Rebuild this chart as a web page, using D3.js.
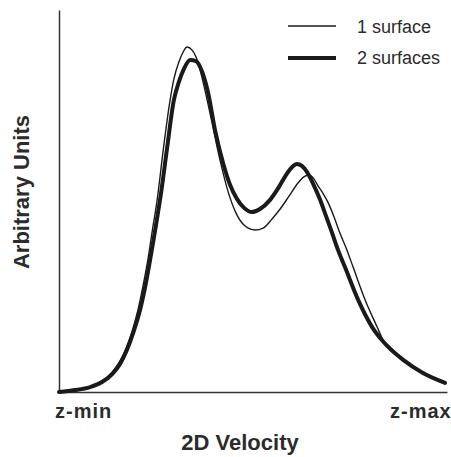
<!DOCTYPE html>
<html>
<head>
<meta charset="utf-8">
<script src="https://cdn.jsdelivr.net/npm/d3@7"></script>
<style>
  body { margin: 0; background: #fff; }
  text { font-family: "Liberation Sans", Arial, Helvetica, sans-serif; fill: #2b2b2b; }
</style>
</head>
<body>
<svg id="chart" width="451" height="457"></svg>
<script>
// velocity (0 = z-min, 100 = z-max) and arbitrary units
var oneX = [0, 4.1, 8.0, 11.1, 13.7, 15.7, 17.5, 19.1, 20.4, 21.6, 22.9, 24.0, 25.3, 26.8, 28.4, 29.6, 30.9, 32.0, 33.0, 34.3, 35.8, 37.6, 39.4, 41.5, 43.6, 45.6, 47.9, 50.5, 52.6, 54.9, 57.0, 59.5, 61.6, 63.1, 64.4, 65.7, 66.8, 67.8, 69.3, 70.9, 72.4, 74.2, 75.8, 78.9, 82.0, 83.5, 88.7, 93.8, 99.5];
var oneY = [0, 0.5, 1.3, 2.9, 5.2, 8.1, 12.0, 16.8, 21.7, 27.5, 34.6, 41.9, 50.3, 62.8, 74.9, 81.9, 86.4, 89.0, 90.3, 89.5, 86.4, 79.1, 70.7, 60.7, 52.4, 46.9, 43.5, 42.4, 42.9, 45.3, 47.9, 51.6, 54.7, 56.3, 56.8, 55.8, 53.9, 52.4, 49.7, 45.8, 41.6, 37.2, 32.7, 24.1, 17.0, 13.6, 8.4, 5.0, 2.4];

var twoX = [0, 4.1, 8.0, 11.1, 13.7, 15.7, 17.5, 19.1, 20.9, 22.4, 23.7, 25.0, 26.3, 27.8, 29.6, 30.9, 32.2, 33.8, 35.3, 36.9, 38.4, 40.2, 42.3, 44.1, 45.9, 47.7, 49.7, 51.8, 54.4, 56.7, 58.5, 60.1, 61.3, 62.6, 63.9, 65.5, 67.3, 68.8, 70.4, 71.9, 73.7, 77.1, 80.7, 83.2, 88.7, 93.8, 99.5];
var twoY = [0, 0.5, 1.3, 2.6, 4.7, 7.3, 11.0, 15.4, 21.5, 28.5, 35.9, 43.7, 52.1, 63.4, 76.4, 81.2, 84.6, 86.9, 86.6, 83.8, 78.5, 68.6, 59.9, 54.2, 50.5, 48.2, 47.1, 47.9, 50.3, 53.7, 56.8, 58.9, 59.7, 59.2, 57.6, 54.5, 50.3, 46.1, 41.6, 37.2, 32.7, 24.1, 17.0, 13.6, 8.4, 5.0, 2.4];

var seriesNames = ["1 surface", "2 surfaces"];
var xTickLabels = ["z-min", "z-max"];

var svg = d3.select("#chart");

var x = d3.scaleLinear().domain([0, 100]).range([59, 447]);
var y = d3.scaleLinear().domain([0, 100]).range([392, 10]);

// axes, no ticks
svg.append("g")
	.attr("transform", "translate(0,392)")
	.call(d3.axisBottom(x).tickValues([]).tickSizeOuter(0))
	.select(".domain").attr("stroke", "#333").attr("stroke-width", 1.5);

svg.append("g")
	.attr("transform", "translate(59,0)")
	.call(d3.axisLeft(y).tickValues([]).tickSizeOuter(0))
	.select(".domain").attr("stroke", "#333").attr("stroke-width", 1.5);

var line = d3.line()
	.x(function(d) { return x(d[0]); })
	.y(function(d) { return y(d[1]); })
	.curve(d3.curveMonotoneX);

var series = [
	{ pts: d3.zip(oneX, oneY), w: 1.4 },
	{ pts: d3.zip(twoX, twoY), w: 4 }
];

svg.selectAll(".curve")
	.data(series)
	.enter().append("path")
	.attr("class", "curve")
	.attr("d", function(d) { return line(d.pts); })
	.attr("fill", "none")
	.attr("stroke", "#1a1a1a")
	.attr("stroke-width", function(d) { return d.w; })
	.attr("stroke-linejoin", "round")
	.attr("stroke-linecap", "round");

// legend
var leg = svg.append("g");
seriesNames.forEach(function(name, i) {
	leg.append("line")
		.attr("x1", 288).attr("x2", 336)
		.attr("y1", 26 + i * 32).attr("y2", 26 + i * 32)
		.attr("stroke", "#1a1a1a")
		.attr("stroke-width", series[i].w);
	leg.append("text")
		.attr("x", 357)
		.attr("y", 33 + i * 31)
		.style("font-size", "18px")
		.text(name);
});

// tick labels at the ends
svg.append("text")
	.attr("x", 55).attr("y", 418)
	.style("font-size", "20px").style("font-weight", "bold").style("letter-spacing", "1px")
	.text(xTickLabels[0]);
svg.append("text")
	.attr("x", 390).attr("y", 418)
	.style("font-size", "20px").style("font-weight", "bold").style("letter-spacing", "1px")
	.text(xTickLabels[1]);

// axis titles
svg.append("text")
	.attr("x", 240).attr("y", 450)
	.attr("text-anchor", "middle")
	.style("font-size", "22px").style("font-weight", "bold")
	.text("2D Velocity");

svg.append("text")
	.attr("transform", "translate(29,192) rotate(-90)")
	.attr("text-anchor", "middle")
	.style("font-size", "22px").style("font-weight", "bold")
	.text("Arbitrary Units");
</script>
</body>
</html>
